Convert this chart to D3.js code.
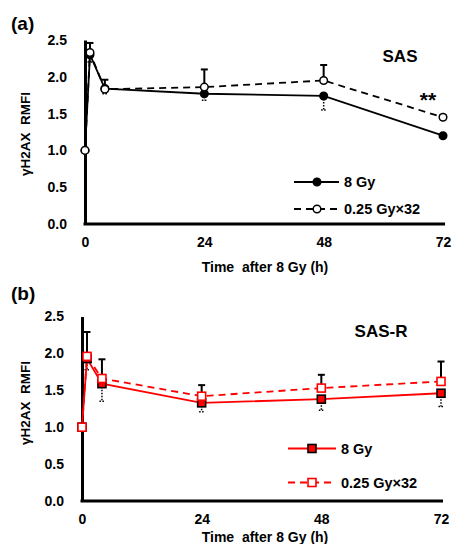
<!DOCTYPE html>
<html><head><meta charset="utf-8">
<script src="https://cdn.jsdelivr.net/npm/d3@7"></script>
<style>
body{margin:0;background:#fff;}
svg{display:block;}
text{font-family:"Liberation Sans",Arial,sans-serif;font-weight:bold;fill:#000;}
</style></head>
<body>
<script>
// ---- data ----
const times = [0, 1, 4, 24, 48, 72];
const xTicks = [0, 24, 48, 72];
const yTicks = [0, 0.5, 1.0, 1.5, 2.0, 2.5];
const seriesNames = ["8 Gy", "0.25 Gy\u00d732"];

// panel (a) SAS
const sasSingle = [1.0, 2.30, 1.84, 1.77, 1.74, 1.20];
const sasSingleErrLow = [0, 0.10, 0.07, 0.09, 0.19, 0.03];
const sasFrac = [1.0, 2.33, 1.83, 1.86, 1.95, 1.45];
const sasFracErrUp = [0, 0.13, 0.13, 0.24, 0.21, 0.03];

// panel (b) SAS-R
const sasrSingle = [1.0, 1.93, 1.59, 1.33, 1.38, 1.46];
const sasrSingleErrLow = [0, 0.15, 0.24, 0.12, 0.15, 0.18];
const sasrFrac = [1.0, 1.96, 1.66, 1.42, 1.53, 1.62];
const sasrFracErrUp = [0, 0.33, 0.26, 0.15, 0.18, 0.27];

const W = 452, H = 544;
const svg = d3.select("body").append("svg").attr("width", W).attr("height", H);

function panel(cfg) {
  const x = d3.scaleLinear().domain([0, 72]).range([cfg.x0, cfg.x1]);
  const y = d3.scaleLinear().domain([0, 2.5]).range([cfg.y0, cfg.y1]);
  const g = svg.append("g");

  // axes
  const ya = g.append("g").attr("transform", `translate(${cfg.x0},0)`)
    .call(d3.axisLeft(y).tickValues(yTicks).tickSize(0).tickPadding(18).tickFormat(d3.format(".1f")));
  const xa = g.append("g").attr("transform", `translate(0,${cfg.y0})`)
    .call(d3.axisBottom(x).tickValues(xTicks).tickSize(0).tickPadding(13));
  [ya, xa].forEach(a => {
    a.select(".domain").attr("stroke", "#000").attr("stroke-width", 3);
    a.selectAll("text").style("font-size", "14px").style("font-family", "'Liberation Sans',Arial,sans-serif").style("font-weight", "bold");
  });
  xa.select(".domain").attr("d", `M${cfg.x0 - 1.5},0H${cfg.x1 + 2}`);

  // labels
  g.append("text").attr("x", 11).attr("y", cfg.labY).style("font-size", "19px").text(cfg.label);
  g.append("text").attr("x", cfg.titleX).attr("y", cfg.titleY).attr("text-anchor", "middle")
    .style("font-size", "17px").text(cfg.title);
  g.append("text").attr("x", 265).attr("y", cfg.xtY).attr("text-anchor", "middle")
    .style("font-size", "14px").style("white-space", "pre").text("Time  after 8 Gy (h)");
  g.append("text").attr("transform", `translate(30,${cfg.ytC}) rotate(-90)`).attr("text-anchor", "middle")
    .style("font-size", "13.5px").style("white-space", "pre").text("\u03b3H2AX  RMFI");

  const line = d3.line().x((d, i) => x(times[i])).y(d => y(d));

  // error bars
  const cap = 3.5;
  times.forEach((t, i) => {
    if (cfg.errUp[i] > 0) {
      const xx = x(t), ya0 = y(cfg.frac[i]), ya1 = y(cfg.frac[i] + cfg.errUp[i]);
      g.append("line").attr("x1", xx).attr("x2", xx).attr("y1", ya0).attr("y2", ya1).attr("stroke", "#000").attr("stroke-width", 2);
      g.append("line").attr("x1", xx - cap).attr("x2", xx + cap).attr("y1", ya1).attr("y2", ya1).attr("stroke", "#000").attr("stroke-width", 2);
    }
    if (cfg.errLow[i] > 0) {
      const xx = x(t), yb0 = y(cfg.single[i]), yb1 = y(cfg.single[i] - cfg.errLow[i]);
      g.append("line").attr("x1", xx).attr("x2", xx).attr("y1", yb0).attr("y2", yb1).attr("stroke", "#000").attr("stroke-width", 1.5).attr("stroke-dasharray", "1.5,1.5");
      g.append("line").attr("x1", xx - cap + 1).attr("x2", xx + cap - 1).attr("y1", yb1).attr("y2", yb1).attr("stroke", "#000").attr("stroke-width", 1.5).attr("stroke-dasharray", "1.5,1.5");
    }
  });

  // lines
  g.append("path").datum(cfg.single).attr("d", line).attr("fill", "none").attr("stroke", cfg.color).attr("stroke-width", 1.8);
  g.append("path").datum(cfg.frac).attr("d", line).attr("fill", "none").attr("stroke", cfg.color).attr("stroke-width", 1.8).attr("stroke-dasharray", "7,5");

  function marker(sel, cx, cy, filled) {
    if (cfg.shape === "circle") {
      sel.append("circle").attr("cx", cx).attr("cy", cy).attr("r", 3.8)
        .attr("fill", filled ? "#000" : "#fff").attr("stroke", "#000").attr("stroke-width", 1.5);
    } else {
      const s = 8;
      sel.append("rect").attr("x", cx - s / 2).attr("y", cy - s / 2).attr("width", s).attr("height", s)
        .attr("fill", filled ? cfg.color : "#fff").attr("stroke", filled ? "#000" : cfg.color).attr("stroke-width", 1.6);
    }
  }
  cfg.single.forEach((v, i) => marker(g, x(times[i]), y(v), true));
  cfg.frac.forEach((v, i) => marker(g, x(times[i]), y(v), false));

  // legend
  const L = cfg.leg;
  g.append("line").attr("x1", L.x1).attr("x2", L.x2).attr("y1", L.y1).attr("y2", L.y1).attr("stroke", cfg.color).attr("stroke-width", 1.8);
  marker(g, L.mx, L.y1, true);
  g.append("text").attr("x", L.tx).attr("y", L.y1 + 5).style("font-size", "14.5px").text(seriesNames[0]);
  g.append("line").attr("x1", L.x1).attr("x2", L.x2).attr("y1", L.y2).attr("y2", L.y2).attr("stroke", cfg.color).attr("stroke-width", 1.8).attr("stroke-dasharray", "7,5");
  marker(g, L.mx, L.y2, false);
  g.append("text").attr("x", L.tx).attr("y", L.y2 + 5).style("font-size", "14.5px").text(seriesNames[1]);

  if (cfg.sig) {
    g.append("text").attr("x", cfg.sig.x).attr("y", cfg.sig.y).attr("text-anchor", "middle").style("font-size", "21px").text(cfg.sig.t);
  }
}

panel({
  x0: 85, x1: 443, y0: 224, y1: 40, label: "(a)", labY: 30,
  title: "SAS", titleX: 400, titleY: 62, xtY: 272, ytC: 134,
  single: sasSingle, errLow: sasSingleErrLow, frac: sasFrac, errUp: sasFracErrUp,
  color: "#000", shape: "circle",
  leg: {x1: 294, x2: 339, mx: 317, tx: 344, y1: 182, y2: 209},
  sig: {x: 428, y: 107, t: "**"}
});
panel({
  x0: 82, x1: 441, y0: 501, y1: 316.5, label: "(b)", labY: 300,
  title: "SAS-R", titleX: 381, titleY: 337, xtY: 542, ytC: 403,
  single: sasrSingle, errLow: sasrSingleErrLow, frac: sasrFrac, errUp: sasrFracErrUp,
  color: "#f00", shape: "square",
  leg: {x1: 288, x2: 336, mx: 312, tx: 341, y1: 448.5, y2: 482.5}
});
</script>
</body></html>
